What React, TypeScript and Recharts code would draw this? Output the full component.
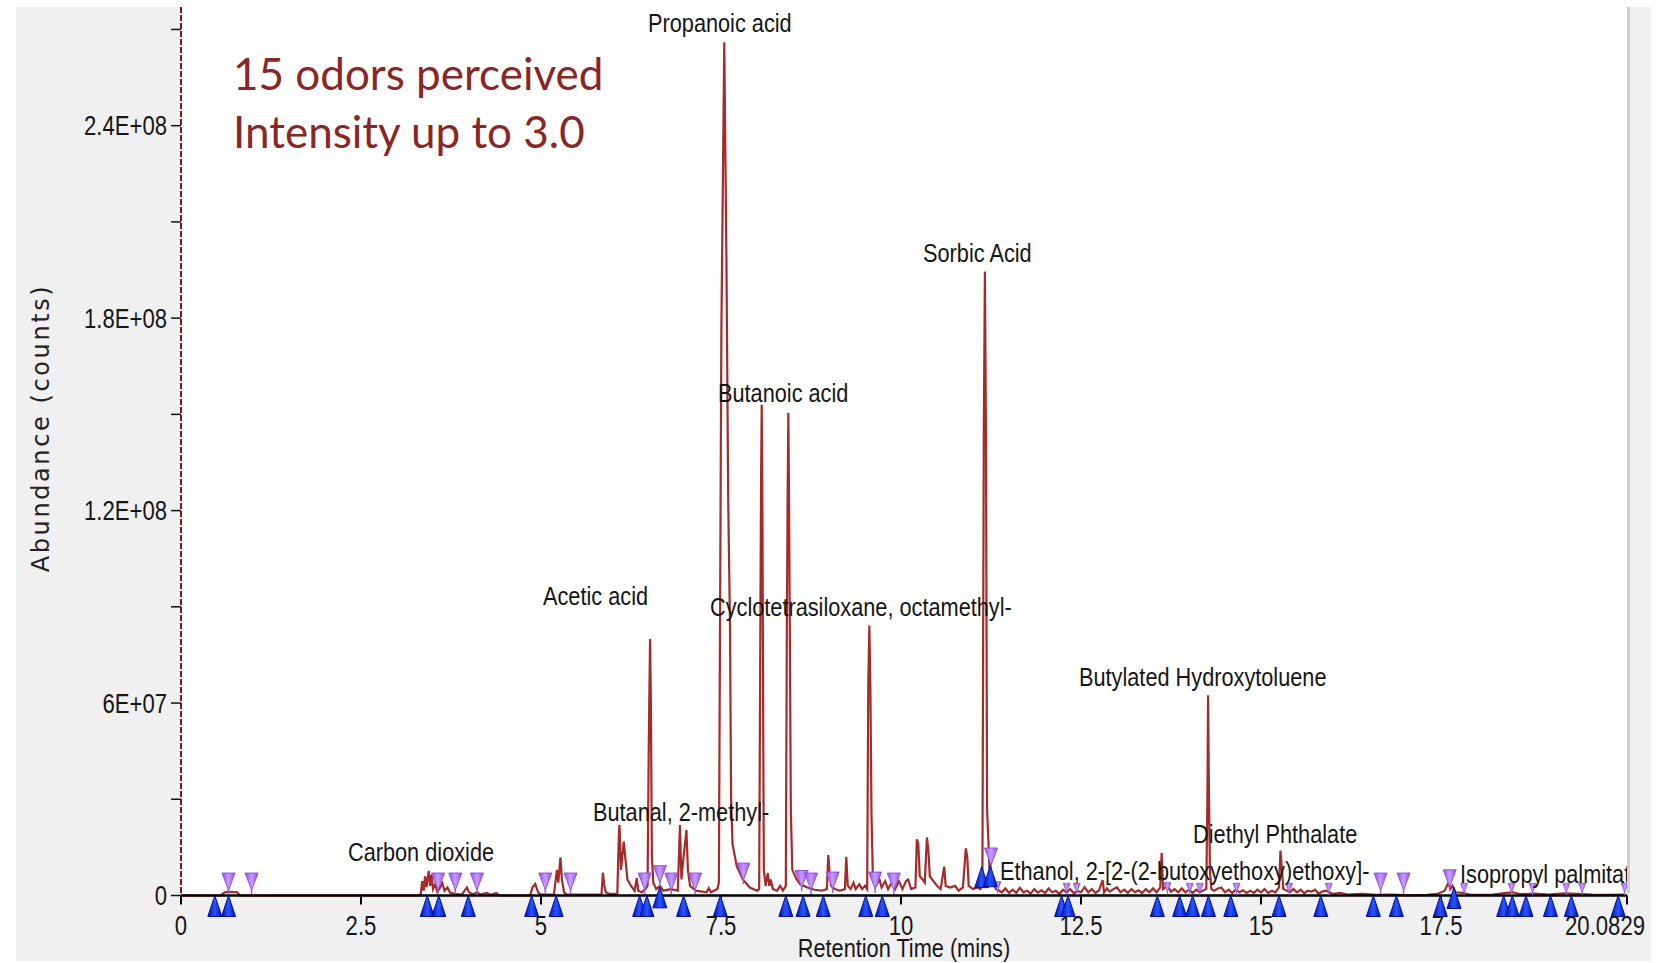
import { ComposedChart, Line, Scatter, XAxis, YAxis } from 'recharts';

const W = 1660;
const H = 963;
const FONT = "'Liberation Sans', Arial, sans-serif";
const SQUEEZE = 0.82; // the source software uses a condensed face
const TRACE = '#a52a2a';

// total ion chromatogram: [retention time (min), abundance (millions of counts)]
const signal: [number, number][] = [
  [0, 0], [0.55, 0], [0.6, 0.9], [0.65, 1.2], [0.7, 1.1], [0.78, 1.0], [0.82, 0], [3.3, 0],
  [3.33, 0.5], [3.35, 4.5], [3.37, 1.5], [3.39, 6.0], [3.41, 2.5], [3.44, 7.7], [3.46, 3.0],
  [3.48, 6.5], [3.5, 2.0], [3.53, 3.5], [3.56, 1.2], [3.6, 2.5], [3.63, 3.8], [3.66, 1.5],
  [3.7, 2.5], [3.74, 0.8], [3.8, 0.5], [3.9, 0.3], [3.97, 2.5], [4.0, 1.0], [4.05, 0.4],
  [4.12, 1.0], [4.15, 0.3], [4.25, 0.8], [4.3, 0.2], [4.38, 0.8], [4.42, 0], [4.85, 0],
  [4.88, 2.5], [4.92, 3.6], [4.96, 1.0], [5.0, 0.3], [5.18, 0.3], [5.22, 8.0], [5.24, 4.0],
  [5.27, 11.9], [5.29, 5.0], [5.32, 1.0], [5.36, 0.3], [5.84, 0.3], [5.86, 7.1], [5.88, 3.0],
  [5.9, 1.0], [5.95, 0.5], [6.06, 0.5], [6.08, 18.0], [6.09, 22.0], [6.11, 8.0], [6.15, 16.8],
  [6.17, 12.0], [6.2, 5.0], [6.25, 3.0], [6.3, 1.5], [6.33, 5.4], [6.35, 1.5], [6.4, 1.0],
  [6.45, 2.0], [6.48, 3.0], [6.495, 43], [6.505, 63], [6.515, 80], [6.525, 62], [6.54, 12],
  [6.56, 4.0], [6.6, 2.0], [6.65, 3.0], [6.7, 1.5], [6.8, 2.0], [6.9, 1.5], [6.93, 22.0],
  [6.95, 5.0], [6.98, 12.0], [7.02, 20.4], [7.04, 8.0], [7.07, 3.0], [7.15, 1.5], [7.3, 1.0],
  [7.33, 2.3], [7.36, 1.0], [7.45, 2.0], [7.47, 4.0], [7.48, 53], [7.505, 176], [7.545, 266],
  [7.575, 199], [7.6, 123], [7.625, 84], [7.64, 30], [7.66, 16], [7.72, 9.0], [7.81, 4.8],
  [7.9, 2.5], [8.0, 1.5], [8.03, 2.0], [8.055, 125], [8.065, 153], [8.075, 120], [8.085, 58],
  [8.095, 8.0], [8.12, 3.0], [8.15, 7.0], [8.17, 3.0], [8.19, 5.0], [8.22, 2.0], [8.28, 1.5],
  [8.32, 3.0], [8.36, 1.5], [8.4, 3.0], [8.415, 86], [8.425, 124], [8.435, 150.5], [8.445, 122],
  [8.455, 86], [8.47, 26], [8.49, 8.0], [8.55, 5.0], [8.6, 3.5], [8.7, 2.5], [8.8, 1.8],
  [8.9, 1.5], [8.97, 2.0], [8.99, 12.6], [9.01, 6.0], [9.03, 3.0], [9.08, 2.0], [9.15, 1.5],
  [9.22, 2.0], [9.24, 12.1], [9.26, 3.0], [9.3, 2.0], [9.34, 4.0], [9.37, 2.0], [9.42, 3.5],
  [9.46, 2.0], [9.5, 3.0], [9.53, 2.0], [9.545, 65], [9.56, 84.2], [9.575, 64], [9.59, 25],
  [9.61, 5.0], [9.65, 3.0], [9.7, 5.0], [9.73, 2.5], [9.78, 4.5], [9.82, 2.0], [9.87, 4.0],
  [9.92, 2.0], [9.97, 4.5], [10.02, 2.0], [10.07, 4.5], [10.1, 5.0], [10.14, 2.0], [10.2, 2.5],
  [10.22, 17.5], [10.24, 16.0], [10.26, 6.0], [10.3, 5.0], [10.33, 4.0], [10.36, 18.1],
  [10.38, 14.0], [10.4, 6.0], [10.45, 4.5], [10.5, 3.0], [10.55, 2.0], [10.6, 9.0], [10.62, 3.0],
  [10.68, 2.5], [10.75, 3.0], [10.8, 1.5], [10.86, 2.5], [10.9, 14.7], [10.92, 12.0],
  [10.94, 3.0], [11.0, 2.0], [11.06, 2.5], [11.1, 2.0], [11.13, 3.0], [11.15, 144],
  [11.165, 194.5], [11.18, 142], [11.195, 27], [11.23, 8.0], [11.27, 4.0], [11.32, 2.0],
  [11.4, 1.0], [11.45, 2.2], [11.5, 0.8], [11.55, 1.8], [11.6, 0.8], [11.65, 2.4], [11.7, 1.0],
  [11.75, 1.5], [11.8, 0.6], [11.85, 2.0], [11.9, 0.9], [11.95, 1.6], [12.0, 0.8], [12.05, 2.2],
  [12.1, 1.0], [12.15, 1.5], [12.2, 0.5], [12.25, 1.8], [12.3, 0.9], [12.35, 2.0], [12.4, 0.7],
  [12.45, 1.4], [12.5, 1.0], [12.55, 2.6], [12.6, 1.0], [12.65, 2.0], [12.7, 0.8], [12.75, 1.6],
  [12.8, 4.8], [12.82, 1.0], [12.86, 2.2], [12.9, 1.2], [12.95, 2.0], [13.0, 2.5], [13.05, 1.0],
  [13.1, 1.8], [13.15, 0.8], [13.2, 2.0], [13.25, 1.0], [13.3, 1.6], [13.35, 0.8], [13.4, 2.0],
  [13.45, 1.0], [13.5, 2.2], [13.55, 1.0], [13.6, 2.5], [13.62, 13.3], [13.64, 2.0],
  [13.7, 3.0], [13.75, 1.2], [13.8, 2.0], [13.85, 1.0], [13.9, 2.2], [13.95, 1.0], [14.0, 1.8],
  [14.05, 0.8], [14.1, 1.8], [14.15, 1.0], [14.2, 1.6], [14.24, 2.0], [14.255, 29.7],
  [14.265, 62.4], [14.275, 35.4], [14.29, 8.0], [14.31, 2.0], [14.35, 1.5], [14.4, 2.2],
  [14.45, 2.5], [14.5, 1.0], [14.55, 1.8], [14.6, 0.8], [14.65, 1.8], [14.7, 1.0], [14.75, 1.6],
  [14.8, 0.8], [14.85, 1.5], [14.9, 0.8], [14.95, 1.8], [15.0, 1.0], [15.05, 2.0], [15.1, 0.8],
  [15.15, 1.5], [15.2, 1.0], [15.25, 2.5], [15.27, 14.0], [15.29, 8.0], [15.31, 2.0],
  [15.35, 1.6], [15.4, 1.0], [15.45, 2.0], [15.5, 1.0], [15.55, 1.8], [15.6, 0.7], [15.65, 1.5],
  [15.7, 1.2], [15.75, 1.8], [15.8, 0.6], [15.85, 1.2], [15.9, 1.5], [16.0, 0.5], [16.1, 0.8],
  [16.2, 0.3], [16.4, 0.5], [16.6, 0.2], [16.8, 0.3], [17.0, 0.1], [17.3, 0.2], [17.45, 0.5],
  [17.55, 1.5], [17.6, 3.8], [17.63, 2.0], [17.66, 3.0], [17.7, 1.0], [17.8, 0.8], [17.9, 0.3],
  [18.2, 0.2], [18.4, 0.8], [18.5, 1.0], [18.6, 0.4], [18.8, 0.6], [19.0, 0.3], [19.2, 0.7],
  [19.4, 0.5], [19.6, 0.3], [19.8, 0.2], [20.05, 0.3],
];

// integration start markers (blue) and end markers (purple), [time, level]
const startMarkers: [number, number][] = [
  [0.47, 0], [0.66, 0], [3.42, 0], [3.58, 0], [3.99, 0], [4.87, 0], [5.21, 0], [6.37, 0],
  [6.47, 0], [6.65, 2.7], [6.98, 0], [7.49, 0], [8.4, 0], [8.64, 0], [8.92, 0], [9.51, 0],
  [9.74, 0], [11.12, 9.0], [11.24, 9.3], [12.23, 0], [12.32, 0], [13.56, 0], [13.87, 0],
  [14.05, 0], [14.27, 0], [14.58, 0], [15.25, 0], [15.83, 0], [16.56, 0], [16.88, 0],
  [17.49, 0], [17.68, 2.5], [18.37, 0], [18.49, 0], [18.68, 0], [19.02, 0], [19.31, 0],
  [19.96, 0],
];
const peakEndMarkers: [number, number][] = [
  [0.66, 1.7], [0.98, 1.7], [3.57, 1.7], [3.81, 1.7], [4.11, 1.7], [5.06, 1.7], [5.41, 1.7],
  [6.44, 1.7], [6.65, 4.0], [6.81, 1.7], [7.14, 1.7], [7.81, 4.8], [8.62, 2.5], [8.75, 1.7],
  [9.05, 2.0], [9.64, 2.0], [9.9, 1.7], [11.25, 9.5], [16.66, 1.7], [16.98, 1.7], [17.62, 2.7],
];
const minorEndMarkers: [number, number][] = [
  [11.34, 1.5], [12.3, 1.0], [12.44, 1.0], [13.7, 1.2], [14.01, 1.0], [14.15, 1.0],
  [14.66, 1.0], [15.39, 1.0], [15.94, 1.0], [17.82, 1.0], [18.48, 1.0], [18.77, 1.0],
  [19.24, 1.0], [19.46, 1.0], [20.05, 1.0],
];

// compound names, placed at [time of left edge, level of text centre]
const compoundNames = [
  'Propanoic acid', 'Sorbic Acid', 'Butanoic acid', 'Acetic acid',
  'Cyclotetrasiloxane, octamethyl-', 'Butylated Hydroxytoluene', 'Diethyl Phthalate',
  'Butanal, 2-methyl-', 'Carbon dioxide', 'Ethanol, 2-[2-(2-butoxyethoxy)ethoxy]-',
  'Isopropyl palmitate',
];
const namePlaces: [number, number][] = [
  [6.486, 272.1], [10.306, 200.4], [7.458, 156.7], [5.028, 93.7], [7.347, 90.0],
  [12.472, 68.2], [14.056, 19.5], [5.722, 26.1], [2.319, 13.6], [11.375, 7.95], [17.764, 7.0],
];

const xTicks = [0, 2.5, 5, 7.5, 10, 12.5, 15, 17.5, 20.0829];
const xTickLabels = ['0', '2.5', '5', '7.5', '10', '12.5', '15', '17.5', '20.0829'];
const yTicks = [0, 30, 60, 90, 120, 150, 180, 210, 240, 270];
const yTickLabels = ['0', '', '6E+07', '', '1.2E+08', '', '1.8E+08', '', '2.4E+08', ''];

const trace = signal.map(([t, v]) => ({ t, v }));
const starts = startMarkers.map(([t, v]) => ({ t, v }));
const ends = peakEndMarkers.map(([t, v]) => ({ t, v }));
const minorEnds = minorEndMarkers.map(([t, v]) => ({ t, v }));
const names = compoundNames.map((name, i) => ({ name, t: namePlaces[i][0], v: namePlaces[i][1] }));

const Narrow = ({ x, y, anchor = 'start', dy = '0', size = 26.5, children }: any) => (
  <text
    transform={`translate(${x},${y}) scale(${SQUEEZE},1)`}
    dy={dy}
    textAnchor={anchor}
    fontFamily={FONT}
    fontSize={size}
    fill="#161616"
  >
    {children}
  </text>
);

const StartMark = ({ cx, cy }: any) => (
  <polygon
    points={`${cx},${cy} ${cx - 7},${cy + 21} ${cx + 7},${cy + 21}`}
    fill="url(#blueMark)"
    stroke="#0010a0"
    strokeWidth={1}
  />
);

const EndMark = ({ cx, cy }: any) => (
  <g>
    <line x1={cx} y1={cy - 3} x2={cx} y2={cy + 4} stroke="#9a5ce6" strokeWidth={1.5} />
    <polygon
      points={`${cx},${cy} ${cx - 6.5},${cy - 17} ${cx + 6.5},${cy - 17}`}
      fill="url(#purpleMark)"
      stroke="#9254e0"
      strokeWidth={1}
    />
  </g>
);

const MinorEndMark = ({ cx, cy }: any) => (
  <g>
    <line x1={cx} y1={cy - 2} x2={cx} y2={cy + 3} stroke="#9a5ce6" strokeWidth={1} />
    <polygon
      points={`${cx},${cy} ${cx - 3.5},${cy - 9} ${cx + 3.5},${cy - 9}`}
      fill="url(#purpleMark)"
      stroke="#9254e0"
      strokeWidth={0.8}
    />
  </g>
);

const NameLabel = ({ cx, cy, payload }: any) => (
  <Narrow x={cx} y={cy} dy="0.36em">{payload.name}</Narrow>
);

const XTick = ({ x, y, payload, index }: any) => {
  const last = index === xTicks.length - 1;
  return (
    <Narrow x={last ? x + 18 : x} y={y} dy="0.71em" anchor={last ? 'end' : 'middle'} size={27}>
      {xTickLabels[xTicks.indexOf(payload.value)]}
    </Narrow>
  );
};

const YTick = ({ x, y, payload }: any) => (
  <Narrow x={x} y={y} dy="0.36em" anchor="end" size={27}>
    {yTickLabels[yTicks.indexOf(payload.value)]}
  </Narrow>
);

export default function App() {
  return (
    <div style={{ position: 'absolute', left: 0, top: 0, width: W, height: H, background: '#fff', overflow: 'hidden' }}>
      <div style={{ position: 'absolute', left: 16, top: 7, width: 1635, height: 954, background: '#f0f0f0' }} />
      <div style={{ position: 'absolute', left: 181, top: 7, width: 1446, height: 889, background: '#fff' }} />
      <div style={{ position: 'absolute', left: 0, top: 0 }}>
        <ComposedChart width={W} height={H} margin={{ top: 7, right: 33, bottom: 7.5, left: 101 }}>
          <defs>
            <linearGradient id="blueMark" x1="0" y1="0" x2="1" y2="0">
              <stop offset="0" stopColor="#0010b0" />
              <stop offset="0.5" stopColor="#2a55ff" />
              <stop offset="1" stopColor="#0010b0" />
            </linearGradient>
            <linearGradient id="purpleMark" x1="0" y1="0" x2="1" y2="0">
              <stop offset="0" stopColor="#9550e6" />
              <stop offset="0.5" stopColor="#c99cff" />
              <stop offset="1" stopColor="#9550e6" />
            </linearGradient>
          </defs>
          <XAxis
            type="number"
            dataKey="t"
            domain={[0, 20.0829]}
            ticks={xTicks}
            interval={0}
            height={60}
            tick={<XTick />}
            tickSize={9}
            tickMargin={11}
            axisLine={{ stroke: '#000', strokeWidth: 2.5 }}
            tickLine={{ stroke: '#000', strokeWidth: 2 }}
          />
          <YAxis
            type="number"
            domain={[0, 277]}
            ticks={yTicks}
            interval={0}
            width={80}
            tick={<YTick />}
            tickSize={10}
            tickMargin={4}
            axisLine={{ stroke: '#7a1616', strokeWidth: 2, strokeDasharray: '6 2' }}
            tickLine={{ stroke: '#111', strokeWidth: 1.5 }}
          />
          <Line
            data={trace}
            dataKey="v"
            type="linear"
            stroke={TRACE}
            strokeWidth={2.2}
            dot={false}
            activeDot={false}
            isAnimationActive={false}
          />
          <Scatter data={ends} dataKey="v" shape={<EndMark />} isAnimationActive={false} />
          <Scatter data={minorEnds} dataKey="v" shape={<MinorEndMark />} isAnimationActive={false} />
          <Scatter data={starts} dataKey="v" shape={<StartMark />} isAnimationActive={false} />
          <Scatter data={names} dataKey="v" shape={<NameLabel />} isAnimationActive={false} />
        </ComposedChart>
      </div>
      {/* right frame of the plot panel, also trims the clipped label */}
      <div style={{ position: 'absolute', left: 1627, top: 7, width: 3, height: 886, background: '#cfcfcf' }} />
      <div style={{ position: 'absolute', left: 1630, top: 7, width: 21, height: 886, background: '#f0f0f0' }} />
      <div style={{ position: 'absolute', left: 1651, top: 0, width: 9, height: H, background: '#fff' }} />
      <svg width={W} height={H} style={{ position: 'absolute', left: 0, top: 0, pointerEvents: 'none' }}>
        <text x={233} y={90} fontFamily="Lato, 'Open Sans', sans-serif" fontSize={44} fill="#8b2626">
          15 odors perceived
        </text>
        <text x={233} y={148} fontFamily="Lato, 'Open Sans', sans-serif" fontSize={44} fill="#8b2626">
          Intensity up to 3.0
        </text>
        <text
          x={40}
          y={428}
          transform="rotate(-90 40 428)"
          textAnchor="middle"
          dy="0.36em"
          fontFamily="'DejaVu Sans', sans-serif"
          fontSize={24}
          letterSpacing={2.6}
          fill="#222"
        >
          Abundance (counts)
        </text>
        <Narrow x={904} y={957} anchor="middle" size={26.5}>
          Retention Time (mins)
        </Narrow>
      </svg>
    </div>
  );
}
